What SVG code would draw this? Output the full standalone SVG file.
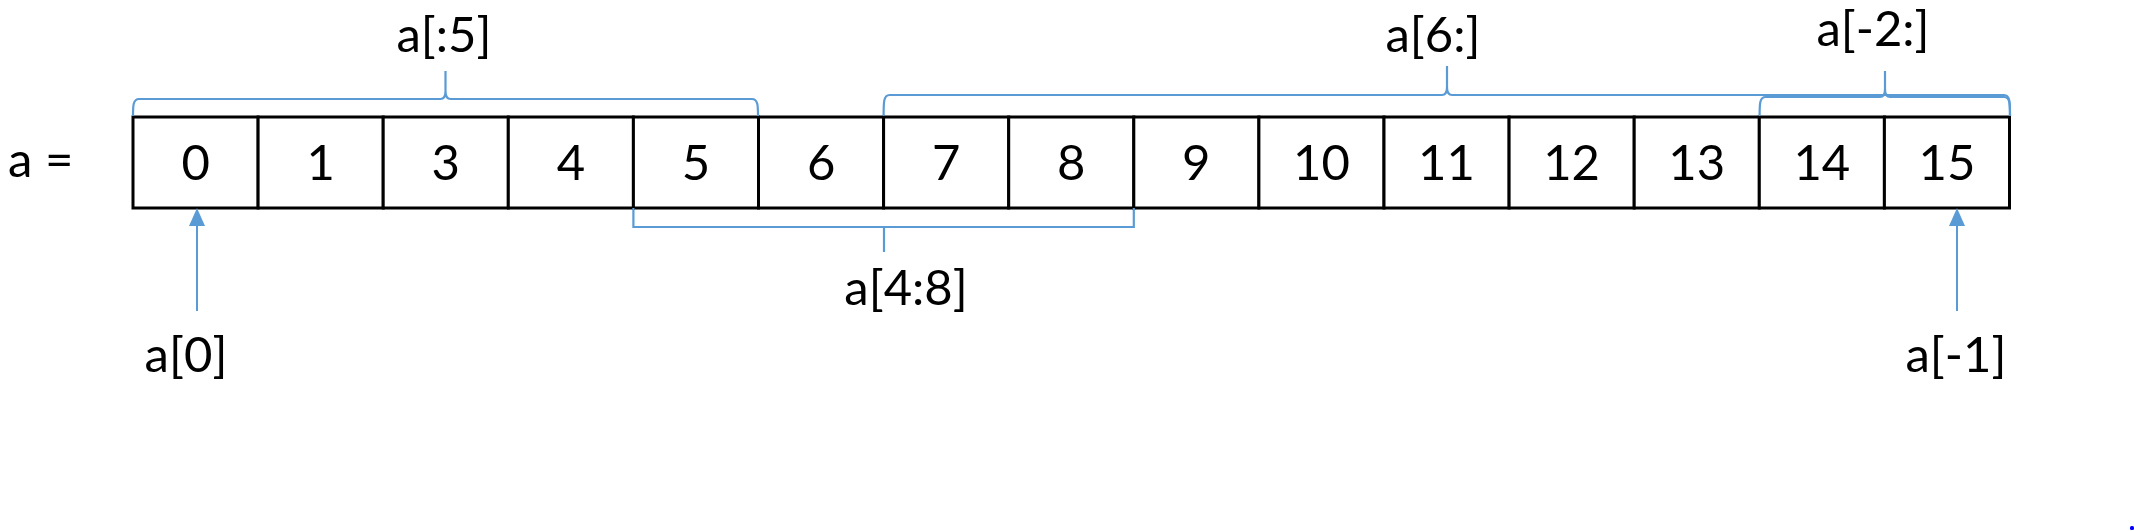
<svg xmlns="http://www.w3.org/2000/svg" width="2134" height="531" viewBox="0 0 2134 531">
<style>
text{font-family:Lato,"Liberation Sans",sans-serif;font-size:49px;fill:#000}
.c{text-anchor:middle}
.cell{fill:#fff;stroke:#000;stroke-width:3}
.br{fill:none;stroke:#5B9BD5;stroke-width:2.2}
.ar{stroke:#5B9BD5;stroke-width:2}
.ah{fill:#5B9BD5}
</style>
<rect width="2134" height="531" fill="#fff"/>
<g id="label-a"><text x="8" y="177">a =</text></g>
<g id="array">
<g id="cell0"><rect class="cell" x="133" y="117" width="125.1" height="91"/><text class="c" x="195.6" y="180">0</text></g>
<g id="cell1"><rect class="cell" x="258.1" y="117" width="125.1" height="91"/><text class="c" x="320.7" y="180">1</text></g>
<g id="cell2"><rect class="cell" x="383.2" y="117" width="125.1" height="91"/><text class="c" x="445.8" y="180">3</text></g>
<g id="cell3"><rect class="cell" x="508.3" y="117" width="125.1" height="91"/><text class="c" x="570.9" y="180">4</text></g>
<g id="cell4"><rect class="cell" x="633.4" y="117" width="125.1" height="91"/><text class="c" x="696" y="180">5</text></g>
<g id="cell5"><rect class="cell" x="758.5" y="117" width="125.1" height="91"/><text class="c" x="821.1" y="180">6</text></g>
<g id="cell6"><rect class="cell" x="883.6" y="117" width="125.1" height="91"/><text class="c" x="946.2" y="180">7</text></g>
<g id="cell7"><rect class="cell" x="1008.7" y="117" width="125.1" height="91"/><text class="c" x="1071.2" y="180">8</text></g>
<g id="cell8"><rect class="cell" x="1133.8" y="117" width="125.1" height="91"/><text class="c" x="1196.3" y="180">9</text></g>
<g id="cell9"><rect class="cell" x="1258.9" y="117" width="125.1" height="91"/><text class="c" x="1321.4" y="180">10</text></g>
<g id="cell10"><rect class="cell" x="1384" y="117" width="125.1" height="91"/><text class="c" x="1446.5" y="180">11</text></g>
<g id="cell11"><rect class="cell" x="1509.1" y="117" width="125.1" height="91"/><text class="c" x="1571.6" y="180">12</text></g>
<g id="cell12"><rect class="cell" x="1634.2" y="117" width="125.1" height="91"/><text class="c" x="1696.7" y="180">13</text></g>
<g id="cell13"><rect class="cell" x="1759.3" y="117" width="125.1" height="91"/><text class="c" x="1821.8" y="180">14</text></g>
<g id="cell14"><rect class="cell" x="1884.4" y="117" width="125.1" height="91"/><text class="c" x="1946.9" y="180">15</text></g>
</g>
<g id="connectors">
<path class="br" d="M133,116 C133,106 133,99 139,99 H440.5 C444.5,99 445.5,96 445.5,91 V71 M445.5,91 C445.5,96 446.5,99 450.5,99 H752 C758,99 758,106 758,116"/>
<path class="br" d="M883.6,116 C883.6,102 883.6,95 889.6,95 H1442 C1446,95 1447,92 1447,87 V66 M1447,87 C1447,92 1448,95 1452,95 H2004 C2010,95 2010,102 2010,116"/>
<path class="br" d="M1759.6,116 C1759.6,104 1759.6,97 1765.6,97 H1880 C1884,97 1885,94 1885,89 V71 M1885,89 C1885,94 1886,97 1890,97 H2004 C2010,97 2010,104 2010,116"/>
<path class="br" d="M633.4,208 V227 H1133.8 V208 M884,227 V252"/>
<line class="ar" x1="197" y1="311" x2="197" y2="224"/>
<polygon class="ah" points="197,208 189,226 205,226"/>
<line class="ar" x1="1957" y1="311" x2="1957" y2="224"/>
<polygon class="ah" points="1957,208 1949,226 1965,226"/>
</g>
<g id="label-a5"><text class="c" x="444" y="52">a[:5]</text></g>
<g id="label-a6"><text class="c" x="1433" y="52">a[6:]</text></g>
<g id="label-am2"><text class="c" x="1873" y="46">a[-2:]</text></g>
<g id="label-a48"><text class="c" x="906" y="305">a[4:8]</text></g>
<g id="label-a0"><text class="c" x="186" y="372">a[0]</text></g>
<g id="label-am1"><text class="c" x="1956" y="372">a[-1]</text></g>
<rect x="2130" y="526" width="4" height="4" rx="1.5" fill="#0000FF"/>
</svg>
